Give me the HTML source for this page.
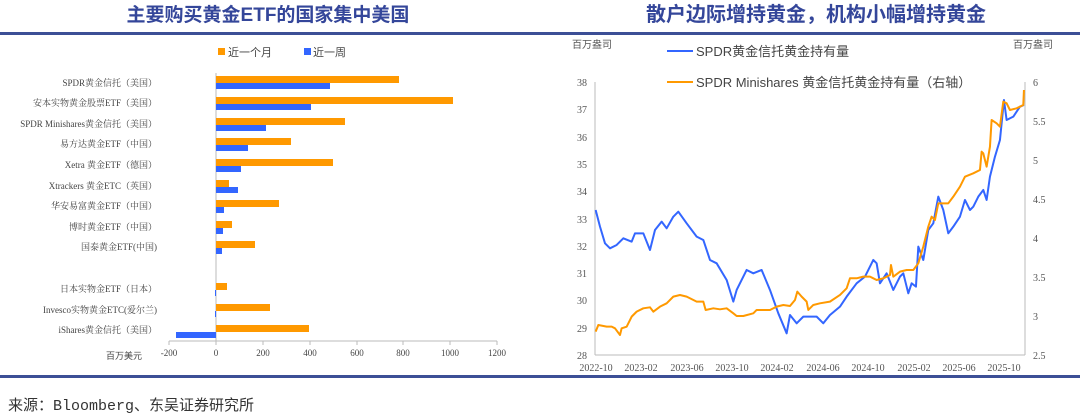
<!DOCTYPE html>
<html><head><meta charset="utf-8"><style>
body{margin:0;width:1080px;height:415px;background:#fff;overflow:hidden;font-family:"Liberation Sans","Noto Sans CJK SC",sans-serif;}
</style></head><body>
<svg width="1080" height="415" xmlns="http://www.w3.org/2000/svg" style="position:absolute;left:0;top:0">
<text x="268" y="21" text-anchor="middle" font-size="19" font-weight="bold" fill="#34469a" font-family="Liberation Sans,Noto Sans CJK SC,sans-serif">主要购买黄金ETF的国家集中美国</text>
<text x="816" y="21" text-anchor="middle" font-size="20" font-weight="bold" fill="#34469a" font-family="Liberation Sans,Noto Sans CJK SC,sans-serif">散户边际增持黄金，机构小幅增持黄金</text>
<rect x="0" y="32" width="1080" height="3" fill="#3c4f96"/>
<rect x="0" y="375" width="1080" height="3" fill="#3c4f96"/>
<text x="8" y="410" font-size="15" fill="#333" font-family="Liberation Mono,Noto Sans CJK SC,monospace">来源：Bloomberg、东吴证券研究所</text>

<!-- left chart -->
<g font-family="Liberation Serif,Noto Serif CJK SC,serif" font-size="9" fill="#444">
<rect x="218" y="48" width="7" height="7" fill="#ff9900"/><text x="228" y="56" font-size="11" font-family="Liberation Sans,Noto Sans CJK SC,sans-serif">近一个月</text>
<rect x="304" y="48" width="7" height="7" fill="#3366ff"/><text x="313" y="56" font-size="11" font-family="Liberation Sans,Noto Sans CJK SC,sans-serif">近一周</text>
<line x1="216" y1="73" x2="216" y2="341" stroke="#bbb"/>
<line x1="169" y1="341" x2="497" y2="341" stroke="#bbb"/>
<g stroke="#bbb"><line x1="169" y1="341" x2="169" y2="345"/><line x1="216" y1="341" x2="216" y2="345"/><line x1="263" y1="341" x2="263" y2="345"/><line x1="310" y1="341" x2="310" y2="345"/><line x1="357" y1="341" x2="357" y2="345"/><line x1="403" y1="341" x2="403" y2="345"/><line x1="450" y1="341" x2="450" y2="345"/><line x1="497" y1="341" x2="497" y2="345"/></g>
<g text-anchor="middle"><text x="169" y="356">-200</text><text x="216" y="356">0</text><text x="263" y="356">200</text><text x="310" y="356">400</text><text x="357" y="356">600</text><text x="403" y="356">800</text><text x="450" y="356">1000</text><text x="497" y="356">1200</text></g>
<text x="106" y="359" font-family="Liberation Sans,Noto Sans CJK SC,sans-serif">百万美元</text>
<g text-anchor="end">
<text x="157" y="86">SPDR黄金信托（美国）</text>
<text x="157" y="106">安本实物黄金股票ETF（美国）</text>
<text x="157" y="127">SPDR Minishares黄金信托（美国）</text>
<text x="157" y="147">易方达黄金ETF（中国）</text>
<text x="157" y="168">Xetra 黄金ETF（德国）</text>
<text x="157" y="189">Xtrackers 黄金ETC（英国）</text>
<text x="157" y="209">华安易富黄金ETF（中国）</text>
<text x="157" y="230">博时黄金ETF（中国）</text>
<text x="157" y="250">国泰黄金ETF(中国)</text>
<text x="157" y="292">日本实物金ETF（日本）</text>
<text x="157" y="313">Invesco实物黄金ETC(爱尔兰)</text>
<text x="157" y="333">iShares黄金信托（美国）</text>
</g>
<g fill="#ff9900">
<rect x="216" y="76" width="183" height="7"/><rect x="216" y="97" width="237" height="7"/><rect x="216" y="118" width="129" height="7"/><rect x="216" y="138" width="75" height="7"/><rect x="216" y="159" width="117" height="7"/><rect x="216" y="180" width="13" height="7"/><rect x="216" y="200" width="63" height="7"/><rect x="216" y="221" width="16" height="7"/><rect x="216" y="241" width="39" height="7"/><rect x="216" y="283" width="11" height="7"/><rect x="216" y="304" width="54" height="7"/><rect x="216" y="325" width="93" height="7"/>
</g>
<g fill="#3366ff">
<rect x="216" y="83" width="114" height="6"/><rect x="216" y="104" width="95" height="6"/><rect x="216" y="125" width="50" height="6"/><rect x="216" y="145" width="32" height="6"/><rect x="216" y="166" width="25" height="6"/><rect x="216" y="187" width="22" height="6"/><rect x="216" y="207" width="8" height="6"/><rect x="216" y="228" width="7" height="6"/><rect x="216" y="248" width="6" height="6"/><rect x="215" y="290" width="1" height="6"/><rect x="215" y="311" width="1" height="6"/><rect x="176" y="332" width="40" height="6"/>
</g>
</g>

<!-- right chart -->
<g font-family="Liberation Serif,Noto Serif CJK SC,serif" font-size="10" fill="#555">
<text x="572" y="48" font-family="Liberation Sans,Noto Sans CJK SC,sans-serif">百万盎司</text>
<text x="1013" y="48" font-family="Liberation Sans,Noto Sans CJK SC,sans-serif">百万盎司</text>
<line x1="667" y1="51" x2="693" y2="51" stroke="#3366ff" stroke-width="2"/>
<text x="696" y="56" font-size="13" fill="#444" font-family="Liberation Sans,Noto Sans CJK SC,sans-serif">SPDR黄金信托黄金持有量</text>
<line x1="667" y1="82" x2="693" y2="82" stroke="#ff9900" stroke-width="2"/>
<text x="696" y="87" font-size="13" fill="#444" font-family="Liberation Sans,Noto Sans CJK SC,sans-serif">SPDR Minishares 黄金信托黄金持有量（右轴）</text>
<g stroke="#bbb"><line x1="595" y1="82" x2="595" y2="355"/><line x1="1025" y1="82" x2="1025" y2="355"/><line x1="595" y1="355" x2="1025" y2="355"/></g>
<g text-anchor="end"><text x="587" y="86">38</text><text x="587" y="113">37</text><text x="587" y="141">36</text><text x="587" y="168">35</text><text x="587" y="195">34</text><text x="587" y="223">33</text><text x="587" y="250">32</text><text x="587" y="277">31</text><text x="587" y="304">30</text><text x="587" y="332">29</text><text x="587" y="359">28</text></g>
<g><text x="1033" y="86">6</text><text x="1033" y="125">5.5</text><text x="1033" y="164">5</text><text x="1033" y="203">4.5</text><text x="1033" y="242">4</text><text x="1033" y="281">3.5</text><text x="1033" y="320">3</text><text x="1033" y="359">2.5</text></g>
<g text-anchor="middle"><text x="596" y="371">2022-10</text><text x="641" y="371">2023-02</text><text x="687" y="371">2023-06</text><text x="732" y="371">2023-10</text><text x="777" y="371">2024-02</text><text x="823" y="371">2024-06</text><text x="868" y="371">2024-10</text><text x="914" y="371">2025-02</text><text x="959" y="371">2025-06</text><text x="1004" y="371">2025-10</text></g>
<g transform="translate(540,30) scale(0.3333)" fill="none" stroke-linejoin="round">
<polyline stroke="#3366ff" stroke-width="6" points="167,540 180,590 195,640 210,655 230,645 250,625 275,635 285,610 310,610 330,660 345,600 365,575 380,595 400,560 415,545 440,580 470,620 490,630 510,690 530,700 560,750 580,815 590,780 620,720 640,730 665,720 690,780 715,850 740,910 750,855 770,880 790,860 830,860 850,880 870,855 900,830 920,800 950,760 975,740 1000,690 1010,700 1020,760 1040,730 1060,780 1080,740 1090,730 1105,790 1115,760 1128,770 1135,650 1150,690 1165,600 1180,580 1195,500 1210,540 1225,610 1240,590 1260,560 1275,510 1290,540 1300,530 1315,500 1330,480 1340,510 1350,440 1365,380 1380,330 1392,210 1400,270 1420,260 1440,230 1452,225"/>
<polyline stroke="#ff9900" stroke-width="6" points="167,905 175,885 200,890 215,890 225,895 240,915 245,895 260,890 275,860 290,845 310,835 330,832 340,845 360,830 380,820 400,800 420,795 440,800 470,815 490,815 497,840 520,835 540,838 560,835 580,850 590,858 610,858 640,850 650,840 670,840 690,840 710,830 730,825 750,828 765,810 772,785 785,800 800,815 805,840 820,825 840,820 870,815 900,795 920,775 930,745 950,745 970,740 990,740 1000,745 1010,750 1030,745 1050,735 1053,705 1060,740 1080,725 1100,720 1120,720 1135,700 1150,650 1165,590 1175,560 1185,570 1195,520 1210,520 1225,520 1240,500 1260,470 1275,440 1300,430 1320,420 1325,365 1330,370 1340,410 1350,350 1355,270 1370,280 1380,290 1390,215 1400,220 1410,240 1430,235 1450,225 1452,180"/>
</g>
</g>
</svg>
</body></html>
